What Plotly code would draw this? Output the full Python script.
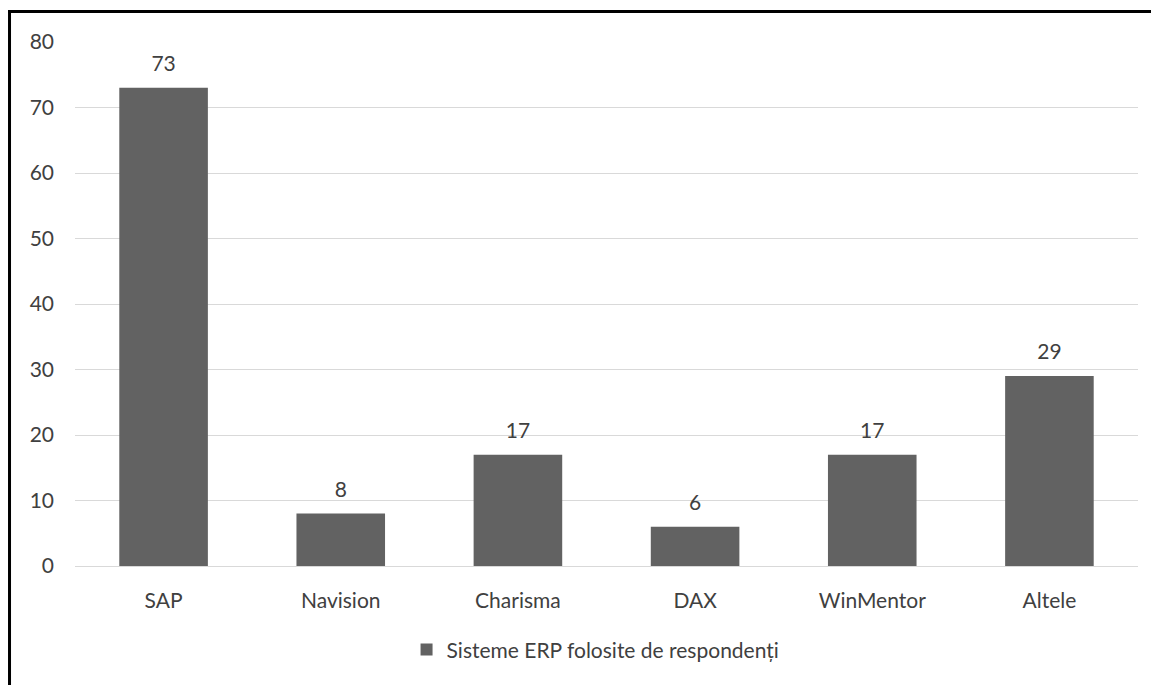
import plotly.graph_objects as go

categories = ["SAP", "Navision", "Charisma", "DAX", "WinMentor", "Altele"]
values = [73, 8, 17, 6, 17, 29]
series_name = "Sisteme ERP folosite de respondenți"
y_ticks = [0, 10, 20, 30, 40, 50, 60, 70, 80]

FONT = "Lato, 'Liberation Sans', sans-serif"

fig = go.Figure()
fig.add_trace(go.Bar(
    x=categories, y=values, name=series_name,
    marker=dict(color="#626262", line=dict(width=0)),
    width=0.5,
))
# data labels above the bars
fig.add_trace(go.Scatter(
    x=categories, y=values, mode="markers+text",
    marker=dict(size=17, opacity=0),
    text=[str(v) for v in values], textposition="top center",
    textfont=dict(size=21, color="#404040", family=FONT),
    showlegend=False, hoverinfo="skip", cliponaxis=False,
))

fig.update_layout(
    width=1151, height=677,
    margin=dict(l=67, r=21, t=34, b=119),
    paper_bgcolor="white", plot_bgcolor="white",
    font=dict(family=FONT, size=21, color="#404040"),
    showlegend=True,
    legend=dict(orientation="h", x=0.4897, xanchor="center", y=-0.16, yanchor="middle",
                itemwidth=30, font=dict(size=21, color="#404040")),
    xaxis=dict(showgrid=False, showline=False, ticks="", ticklabelstandoff=20,
               tickfont=dict(size=21, color="#404040")),
    yaxis=dict(range=[0, 80], tickvals=y_ticks, showgrid=True, gridcolor="#d9d9d9",
               gridwidth=1, zeroline=True, zerolinecolor="#d9d9d9", zerolinewidth=1,
               ticks="", showline=False, tickfont=dict(size=21, color="#404040"),
               ticklabelstandoff=20),
    bargap=0.5,
)

# outer frame (top and left edges of the picture)
fig.add_shape(type="path", xref="paper", yref="paper",
              path="M -0.0616 -0.3 L -0.0616 1.0582 L 1.05 1.0582",
              line=dict(color="black", width=3))

fig.write_html("out.html")
